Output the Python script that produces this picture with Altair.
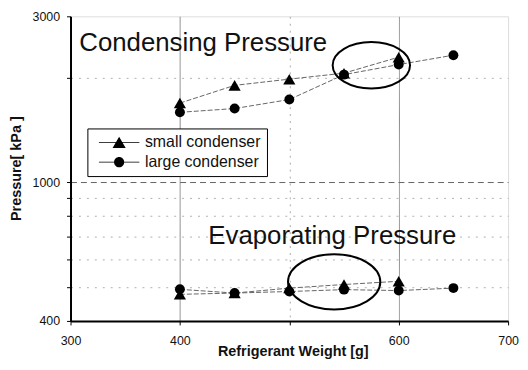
import altair as alt
import pandas as pd

# ---- data ----
weights = [400, 450, 500, 550, 600, 650]
series_names = ["small condenser", "large condenser"]
cond_small = [1690, 1900, 1980, 2060, 2290, None]
cond_large = [1590, 1630, 1730, 2040, 2180, 2320]
evap_small = [477, 481, 497, 509, 520, None]
evap_large = [493, 481, 486, 492, 489, 497]

x_ticks = [300, 400, 500, 600, 700]
x_labels = [300, 400, 600, 700]
y_ticks = [400, 500, 600, 700, 800, 900, 1000, 2000, 3000]
y_labels = [400, 1000, 3000]

note_text = ["Condensing Pressure", "Evaporating Pressure"]
note_x = [308, 426]
note_y = [2512, 702]

ring_x = [575, 541]
ring_y = [2170, 518]

# ---- tables ----
rows = []
for regime, small, large in [("cond", cond_small, cond_large), ("evap", evap_small, evap_large)]:
    for name, vals in zip(series_names, [small, large]):
        for w, p in zip(weights, vals):
            if p is not None:
                rows.append({"x": w, "y": p, "condenser": name, "line": regime + " " + name})
df = pd.DataFrame(rows)
notes = pd.DataFrame({"x": note_x, "y": note_y, "t": note_text})
rings = pd.DataFrame({"x": ring_x, "y": ring_y})

FONT = "Liberation Sans"

xlab_test = " || ".join(f"datum.value == {v}" for v in x_labels)
ylab_test = " || ".join(f"datum.value == {v}" for v in y_labels)

x_axis = alt.Axis(
    values=x_ticks,
    labelExpr=f"({xlab_test}) ? datum.label : ''",
    grid=True,
    gridColor={"condition": {"test": "datum.value == 500", "value": "#aaa"}, "value": "#888"},
    gridWidth=1,
    gridDash={"condition": {"test": "datum.value == 500", "value": [2, 5]}, "value": [1, 0]},
    gridOpacity={"condition": {"test": "datum.value == 300 || datum.value == 700", "value": 0}, "value": 1},
    domainColor="black", domainWidth=2,
    tickColor="black", tickSize=4, tickWidth=1,
    labelFont=FONT, labelFontSize=12.5, labelColor="#111", labelPadding=10,
    labelFlush=False,
    title="Refrigerant Weight [g]",
    titleFont=FONT, titleFontSize=14.5, titleFontWeight="bold", titleColor="#111",
    titleX=224, titleY=31, titleBaseline="middle",
)
y_axis = alt.Axis(
    values=y_ticks,
    labelExpr=f"({ylab_test}) ? datum.label : ''",
    format="d",
    grid=True,
    gridColor={"condition": {"test": "datum.value == 1000", "value": "#666"}, "value": "#b0b0b0"},
    gridDash={"condition": {"test": "datum.value == 1000", "value": [6, 4]}, "value": [2, 6]},
    gridOpacity={"condition": {"test": "datum.value == 400 || datum.value == 3000", "value": 0}, "value": 1},
    domainColor="black", domainWidth=2,
    tickColor="black", tickSize=4, tickWidth=1,
    labelFont=FONT, labelFontSize=12.5, labelColor="#111", labelPadding=7,
    labelFlush=False,
    title="Pressure[ kPa ]",
    titleFont=FONT, titleFontSize=14.5, titleFontWeight="bold", titleColor="#111",
    titleX=-54, titleY=153, titleAngle=270, titleAlign="center", titleBaseline="middle",
)

X = alt.X("x:Q", scale=alt.Scale(domain=[300, 700], nice=False, zero=False), axis=x_axis)
Y = alt.Y("y:Q", scale=alt.Scale(type="log", domain=[400, 3000], nice=False), axis=y_axis)

lines = alt.Chart(df).mark_line(color="#666", strokeWidth=1, strokeDash=[5, 2]).encode(
    x=X, y=Y, detail="line:N", order="x:Q"
)

points = alt.Chart(df).mark_point(filled=True, color="black", opacity=1).encode(
    x=X, y=Y,
    shape=alt.Shape("condenser:N", scale=alt.Scale(domain=series_names, range=["triangle-up", "circle"]), legend=None),
    size=alt.Size("condenser:N", scale=alt.Scale(domain=series_names, range=[150, 100]), legend=None),
)

# legend glyphs: a thin bar (the line) plus the marker
tri_path = "M-3.4,-0.07H3.4V0.07H-3.4ZM0,-0.95L1.1,0.95L-1.1,0.95Z"
circ_path = "M-3.4,-0.07H3.4V0.07H-3.4ZM0.85,0A0.85,0.85 0 1,1 -0.85,0A0.85,0.85 0 1,1 0.85,0Z"

legend_layer = alt.Chart(df).transform_filter("false").mark_point(
    filled=True, color="black", opacity=1
).encode(
    x=X, y=Y,
    shape=alt.Shape(
        "condenser:N",
        scale=alt.Scale(domain=series_names, range=[tri_path, circ_path]),
        legend=alt.Legend(
            title=None, orient="none", legendX=17, legendY=113,
            strokeColor="black", fillColor="white", padding=6,
            symbolSize=144, symbolOffset=18, labelOffset=18,
            symbolFillColor="black", symbolStrokeColor="black", symbolStrokeWidth=0.5,
            symbolOpacity=1,
            labelFont=FONT, labelFontSize=16, labelColor="#111", rowPadding=4,
        ),
    ),
)

text = alt.Chart(notes).mark_text(
    align="left", baseline="middle", font=FONT, fontSize=26, color="#111"
).encode(x=X, y=Y, text="t:N")

ellipse_path = "M-1,0A1,0.6 0 1,0 1,0A1,0.6 0 1,0 -1,0Z"
ring_sizes = [6084, 8649]
ring_layers = [
    alt.Chart(rings.iloc[[i]]).mark_point(
        shape=ellipse_path, filled=False, color="black", strokeWidth=2, size=s, opacity=1
    ).encode(x=X, y=Y)
    for i, s in enumerate(ring_sizes)
]

chart = alt.layer(lines, points, legend_layer, text, *ring_layers).resolve_scale(
    shape="independent", size="independent"
).properties(
    width=441, height=307,
    autosize=alt.AutoSizeParams(type="none"),
    padding={"left": 63, "top": 7, "right": 12, "bottom": 40},
).configure_view(stroke="black", strokeWidth=1).configure(background="white")

chart.save("out.html", embed_options={"renderer": "svg", "actions": False})
